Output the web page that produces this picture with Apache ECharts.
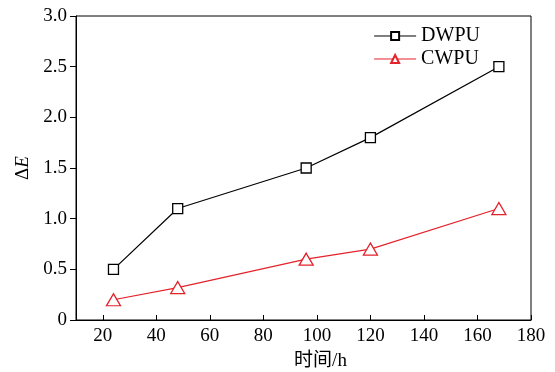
<!DOCTYPE html>
<html>
<head>
<meta charset="utf-8">
<script src="https://cdn.jsdelivr.net/npm/echarts@6/dist/echarts.min.js"></script>
<style>html,body{margin:0;padding:0;background:#fff}#c{width:555px;height:372px}</style>
</head>
<body>
<div id="c"></div>
<script>
const hours = [24, 48, 96, 120, 168];
const dwpu = [0.5, 1.1, 1.5, 1.8, 2.5];
const cwpu = [0.2, 0.32, 0.6, 0.7, 1.1];
const xTicks = [20, 40, 60, 80, 100, 120, 140, 160, 180];
const seriesNames = ['DWPU', 'CWPU'];
const xName = '时间/h';

const FONT = '"Liberation Serif", "Times New Roman", "Noto Sans CJK SC", serif';
const chart = echarts.init(document.getElementById('c'), null, {renderer: 'canvas'});
chart.setOption({
  animation: false,
  backgroundColor: '#fff',
  grid: {left: 76, right: 24, top: 16, bottom: 52, show: true, borderColor: '#000', borderWidth: 1,
         containLabel: false, outerBoundsMode: 'none'},
  legend: {
    right: 70, top: 21, orient: 'vertical', itemGap: 3, itemWidth: 42, itemHeight: 10,
    textStyle: {fontFamily: FONT, fontSize: 20, color: '#000'},
    lineStyle: {width: 1},
    data: seriesNames
  },
  xAxis: {
    type: 'value', min: 10, max: 180,
    name: xName, nameLocation: 'middle', nameGap: 32,
    nameTextStyle: {fontFamily: FONT, fontSize: 19, color: '#000', padding: [0, 0, 0, 34]},
    axisLine: {lineStyle: {color: '#000', width: 1}},
    axisTick: {inside: true, length: 5, customValues: xTicks, lineStyle: {color: '#000'}},
    axisLabel: {customValues: xTicks, fontFamily: FONT, fontSize: 19, color: '#000', margin: 7},
    splitLine: {show: false}
  },
  yAxis: {
    type: 'value', min: 0, max: 3, interval: 0.5,
    name: '{d|Δ}{e|E}', nameLocation: 'middle', nameGap: 39, nameRotate: 90,
    nameTextStyle: {fontFamily: FONT, fontSize: 19, color: '#000',
      rich: {d: {fontFamily: FONT, fontSize: 19, color: '#000'}, e: {fontFamily: FONT, fontSize: 19, fontStyle: 'italic', color: '#000'}}},
    axisLine: {show: true, lineStyle: {color: '#000', width: 1}},
    axisTick: {show: true, inside: false, length: 6, lineStyle: {color: '#000'}},
    axisLabel: {fontFamily: FONT, fontSize: 19, color: '#000', margin: 9,
      formatter: v => v === 0 ? '0' : v.toFixed(1)},
    splitLine: {show: false}
  },
  series: [
    {name: seriesNames[0], type: 'line', data: hours.map((h, i) => [h, dwpu[i]]),
     symbol: 'rect', symbolSize: 10, showAllSymbol: true,
     lineStyle: {color: '#000', width: 1.2},
     itemStyle: {color: '#fff', borderColor: '#000', borderWidth: 1.3}},
    {name: seriesNames[1], type: 'line', data: hours.map((h, i) => [h, cwpu[i]]),
     symbol: 'triangle', symbolSize: [14, 12], showAllSymbol: true,
     lineStyle: {color: '#e3222b', width: 1.2},
     itemStyle: {color: '#fff', borderColor: '#e3222b', borderWidth: 1.3}}
  ]
});
</script>
</body>
</html>
